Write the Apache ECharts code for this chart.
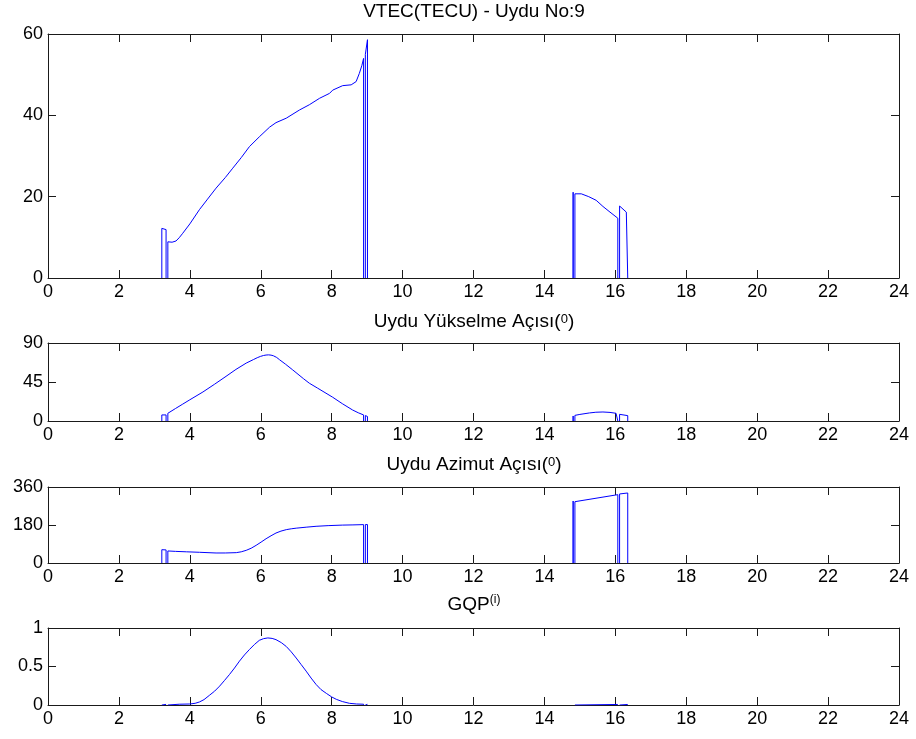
<!DOCTYPE html>
<html>
<head>
<meta charset="utf-8">
<title>VTEC - Uydu No:9</title>
<script src="https://cdn.jsdelivr.net/npm/echarts@6/dist/echarts.min.js"></script>
<style>
  html, body { margin: 0; padding: 0; background: #fff; }
  #chart { width: 916px; height: 739px; }
</style>
</head>
<body>
<div id="chart"></div>
<script>
// Observation passes of satellite 9 over one day (hours, UT).
// A null entry separates consecutive tracking arcs; outside an arc the value is 0.

const vtecHours = [3.21, 3.33, null,
  3.38, 3.50, 3.61, 3.70, 3.80, 4.00, 4.27, 4.50, 4.74, 5.00, 5.21, 5.45, 5.68, 5.97,
  6.25, 6.43, 6.72, 7.09, 7.37, 7.66, 7.94, 8.03, 8.31, 8.55, 8.69, 8.78, 8.85, 8.90, null,
  8.95, 9.01, null,
  14.81, null,
  14.86, 15.04, 15.25, 15.46, 15.65, 15.85, 16.07, null,
  16.12, 16.31, 16.35];
const vtecValues = [12.2, 11.9, null,
  8.9, 8.8, 9.1, 9.9, 11.0, 13.3, 16.8, 19.4, 22.1, 24.7, 27.0, 29.6, 32.3, 34.8,
  37.1, 38.2, 39.3, 41.3, 42.6, 44.2, 45.4, 46.2, 47.3, 47.5, 48.3, 50.3, 52.2, 54.0, null,
  55.0, 58.6, null,
  21.1, null,
  20.7, 20.7, 20.0, 19.1, 17.6, 16.2, 14.7, null,
  17.7, 16.2, 16.0];

const elevHours = [3.21, 3.33, null,
  3.38, 3.60, 3.80, 4.00, 4.37, 4.70, 5.02, 5.30, 5.59, 5.80, 5.90, 5.99, 6.08, 6.15, 6.22, 6.29,
  6.36, 6.45, 6.53, 6.70, 6.90, 7.20, 7.37, 7.60, 8.03, 8.30, 8.59, 8.75, 8.90, null,
  8.95, 9.01, null,
  14.81, null,
  14.86, 15.00, 15.27, 15.45, 15.65, 15.85, 16.02, 16.07, null,
  16.12, 16.35];
const elevValues = [7.0, 7.0, null,
  8.9, 14.5, 19.5, 24.5, 33.5, 42.5, 51.5, 59.5, 66.8, 71.0, 73.0, 74.5, 75.6, 76.1, 76.3, 76.0,
  75.2, 73.3, 70.7, 65.5, 59.0, 49.0, 43.6, 38.0, 27.4, 20.0, 12.7, 9.5, 7.0, null,
  6.3, 5.2, null,
  5.8, null,
  6.5, 7.6, 9.3, 10.1, 10.4, 9.9, 8.9, 8.5, null,
  7.7, 6.2];

const azimHours = [3.21, 3.33, null,
  3.38, 3.60, 3.90, 4.27, 4.74, 5.00, 5.31, 5.45, 5.59, 5.73, 5.87, 6.01, 6.15, 6.29, 6.43,
  6.57, 6.72, 6.86, 7.00, 7.30, 7.56, 7.90, 8.30, 8.60, 8.90, null,
  8.95, 9.01, null,
  14.81, null,
  14.86, 16.07, null,
  16.12, 16.35];
const azimValues = [63, 62, null,
  57, 55, 53, 50.7, 47.4, 47.5, 49, 53, 60, 70, 83.7, 99, 115, 129, 142,
  151, 158, 162, 165, 170, 173.8, 177, 179.5, 180.5, 181.8, null,
  182, 182, null,
  293.7, null,
  290.5, 323.7, null,
  327, 331.6];

const gqpHours = [3.21, 3.33, null,
  3.38, 3.70, 4.00, 4.15, 4.27, 4.40, 4.55, 4.70, 4.84, 4.98, 5.12, 5.26, 5.40, 5.54, 5.68,
  5.82, 5.96, 6.08, 6.20, 6.32, 6.43, 6.58, 6.72, 6.86, 7.00, 7.14, 7.28, 7.42, 7.56, 7.70,
  7.85, 8.00, 8.13, 8.30, 8.50, 8.70, 8.90, null,
  8.95, 9.01, null,
  14.81, null,
  14.86, 16.07, null,
  16.12, 16.35];
const gqpValues = [0.008, 0.008, null,
  0.009, 0.010, 0.013, 0.022, 0.039, 0.070, 0.125, 0.180, 0.245, 0.320, 0.397, 0.480, 0.570, 0.650, 0.720,
  0.785, 0.840, 0.862, 0.871, 0.865, 0.849, 0.810, 0.760, 0.690, 0.610, 0.525, 0.440, 0.350, 0.267, 0.200,
  0.151, 0.105, 0.074, 0.045, 0.022, 0.013, 0.010, null,
  0.009, 0.009, null,
  0.007, null,
  0.007, 0.007, null,
  0.007, 0.007];

// Each arc starts and ends on zero (no data outside the arc); arcs are not joined.
function arcsToLine(hours, values) {
  const out = [];
  let arc = [];
  const flush = () => {
    if (!arc.length) return;
    out.push([arc[0][0], 0]);
    arc.forEach(p => out.push(p));
    out.push([arc[arc.length - 1][0], 0]);
    out.push([arc[arc.length - 1][0], '-']);
    arc = [];
  };
  hours.forEach((h, i) => {
    if (h === null) flush();
    else arc.push([h, values[i]]);
  });
  flush();
  return out;
}

const FONT = "'Liberation Sans', Arial, sans-serif";
const AXIS_COLOR = '#1a1a1a';

const panels = [
  { top: 34,  height: 244, max: 60,  interval: 20 },
  { top: 343, height: 78,  max: 90,  interval: 45 },
  { top: 487, height: 76,  max: 360, interval: 180 },
  { top: 628, height: 77,  max: 1,   interval: 0.5 }
];

const grid = panels.map(p => ({ left: 48, width: 851, top: p.top, height: p.height }));

const xAxis = [];
const yAxis = [];
panels.forEach((p, i) => {
  ['bottom', 'top'].forEach(pos => {
    xAxis.push({
      type: 'value', gridIndex: i, position: pos,
      min: 0, max: 24, interval: 2,
      axisLine: { show: true, onZero: false, lineStyle: { color: AXIS_COLOR, width: 1 } },
      axisTick: { show: true, inside: true, length: 8, lineStyle: { color: AXIS_COLOR } },
      axisLabel: { show: pos === 'bottom', margin: 5, color: '#000', fontSize: 18, fontFamily: FONT },
      splitLine: { show: false }
    });
  });
  ['left', 'right'].forEach(pos => {
    yAxis.push({
      type: 'value', gridIndex: i, position: pos,
      min: 0, max: p.max, interval: p.interval,
      axisLine: { show: true, onZero: false, lineStyle: { color: AXIS_COLOR, width: 1 } },
      axisTick: { show: true, inside: true, length: 8, lineStyle: { color: AXIS_COLOR } },
      axisLabel: { show: pos === 'left', margin: 5, color: '#000', fontSize: 18, fontFamily: FONT },
      splitLine: { show: false }
    });
  });
});

const lineSets = [
  arcsToLine(vtecHours, vtecValues),
  arcsToLine(elevHours, elevValues),
  arcsToLine(azimHours, azimValues),
  arcsToLine(gqpHours, gqpValues)
];

const series = lineSets.map((data, i) => ({
  type: 'line',
  xAxisIndex: i * 2,
  yAxisIndex: i * 2,
  data: data,
  showSymbol: false,
  connectNulls: false,
  lineStyle: { color: '#0000ff', width: 1 },
  emphasis: { disabled: true }
}));

const titleRich = {
  n: { fontSize: 19, fontFamily: FONT, color: '#000', lineHeight: 22 },
  s: { fontSize: 13, fontFamily: FONT, color: '#000', lineHeight: 14, verticalAlign: 'middle', padding: [0, 0, 5, 0] },
  t: { fontSize: 12, fontFamily: FONT, color: '#000', lineHeight: 13, verticalAlign: 'top' }
};

function makeTitle(text, top) {
  return {
    text: text, left: 474, top: top, textAlign: 'center', padding: 0,
    textStyle: { fontSize: 19, fontWeight: 'normal', fontFamily: FONT, color: '#000', rich: titleRich }
  };
}

const title = [
  makeTitle('{n|VTEC(TECU) - Uydu No:9}', 1),
  makeTitle('{n|Uydu Yükselme Açısı(}{s|0}{n|)}', 311),
  makeTitle('{n|Uydu Azimut Açısı(}{s|0}{n|)}', 454),
  makeTitle('{n|GQP}{t|(i)}', 594)
];

const chart = echarts.init(document.getElementById('chart'), null, { renderer: 'canvas' });
chart.setOption({
  animation: false,
  backgroundColor: '#ffffff',
  title: title,
  grid: grid,
  xAxis: xAxis,
  yAxis: yAxis,
  series: series
});
</script>
</body>
</html>
